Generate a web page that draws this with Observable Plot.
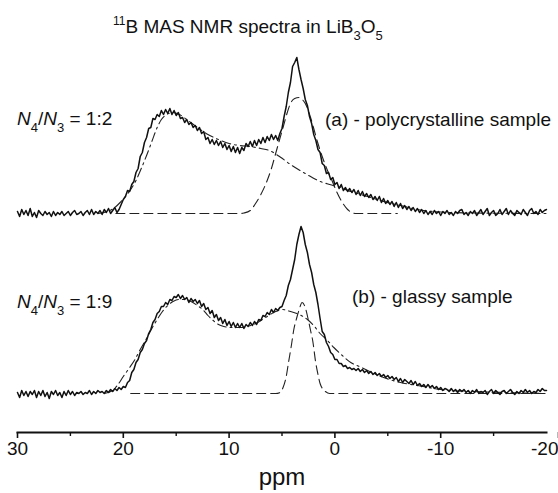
<!DOCTYPE html>
<html><head><meta charset="utf-8">
<script src="https://cdn.jsdelivr.net/npm/d3@7"></script>
<script src="https://cdn.jsdelivr.net/npm/@observablehq/plot@0.6"></script>
<style>
html,body{margin:0;padding:0;background:#fff;}
#wrap{position:relative;width:558px;height:493px;font-family:"Liberation Sans",Arial,sans-serif;color:#111;overflow:hidden;background:#fff;}
#title{position:absolute;left:113px;top:17px;font-size:19px;line-height:19px;white-space:nowrap;z-index:2;}
.ann{position:absolute;font-size:19px;line-height:19px;white-space:nowrap;z-index:2;}
.s{font-size:13px;position:relative;top:7px;vertical-align:baseline;line-height:0;}
.u{font-size:12px;position:relative;top:-8px;vertical-align:baseline;line-height:0;}
#chart{position:absolute;left:0;top:44px;z-index:1;}
</style></head><body>
<div id="wrap">
 <div id="title"><span class="u">11</span>B MAS NMR spectra in LiB<span class="s">3</span>O<span class="s">5</span></div>
 <div class="ann" style="left:17px;top:109px;"><i>N</i><span class="s">4</span>/<i>N</i><span class="s">3</span> = 1:2</div>
 <div class="ann" style="left:325px;top:110px;">(a) - polycrystalline sample</div>
 <div class="ann" style="left:17px;top:292px;"><i>N</i><span class="s">4</span>/<i>N</i><span class="s">3</span> = 1:9</div>
 <div class="ann" style="left:352px;top:287px;">(b) - glassy sample</div>
 <div id="chart"></div>
</div>
<script>
// sampling grid: 30 ppm down to -20 ppm, step 0.2 ppm
const ppmStart = 30, ppmStep = 0.2;

// (a) polycrystalline sample, measured spectrum (a.u.)
const specA = [
 2,-3,4,-1,3, -2,5,-3,1,-4, 3,0,-2,2,-1, 1,-3,2,-2,1, -1,2,-2,0,2,
 -2,1,3,-1,0, 2,-2,1,3,-1, 4,-1,2,0,3, -1,4,1,5,0, 3,6,1,4,9,
 14,17,23,22,29, 32,41,45,57,61, 71,76,85,86,95, 94,99,97,103,99, 104,100,105,99,103,
 98,101,95,96,91, 94,89,91,86,88, 83,86,80,82,74, 76,70,74,69,73, 68,72,66,70,64,
 68,62,67,61,66, 60,66,63,70,67, 72,67,73,68,74, 70,76,71,77,73, 79,74,78,73,80,
 85,97,107,121,131, 147,151,156,144,134, 125,114,108,97,90, 79,73,64,61,50, 48,40,41,34,36,
 29,31,25,29,23, 26,22,25,21,24, 19,23,18,22,17, 20,16,19,14,17, 13,17,11,15,10,
 13,9,12,7,11, 6,10,5,8,4, 7,3,6,2,5, 1,4,0,3,-1, 2,-1,3,0,2,
 -2,2,0,3,-1, 1,-2,2,0,3, 4,-1,1,-2,2, 0,3,-2,1,4, -1,2,5,-2,1,
 3,-2,0,4,-1, 2,5,-1,3,0, -2,3,1,-1,4, 1,-2,3,5,0, 2,-1,4,1,3,
 4
];

// (b) glassy sample, measured spectrum (a.u.)
const specB = [
 1,-4,3,-2,2, -3,2,-1,3,-4, 2,-2,3,-3,1, -5,2,-1,3,-2, 1,-4,2,-2,3,
 -1,2,-2,1,0, 2,-1,1,0,3, -1,2,0,3,1, 2,0,3,1,4, 2,5,3,6,4,
 7,6,11,13,21, 24,31,34,41,44, 50,53,60,64,71, 74,80,82,87,87, 91,89,94,93,97,
 96,99,95,98,94, 96,91,95,92,94, 90,93,87,90,84, 86,80,83,76,79, 73,76,70,74,68,
 72,67,71,66,70, 66,70,65,69,67, 71,68,72,69,74, 73,78,77,81,79, 84,81,85,83,86,
 87,93,98,108,114, 124,134,149,159,167, 161,149,141,129,121, 109,101,89,75,62, 59,51,47,41,39,
 34,34,30,30,27, 28,25,26,24,25, 23,25,22,24,21, 23,20,22,19,21, 18,20,17,19,16,
 18,15,17,14,16, 12,15,11,14,12, 10,13,9,12,8, 10,7,9,6,9, 6,8,5,7,4,
 6,3,5,4,2, 5,2,4,1,4, 2,4,1,3,0, 3,1,4,0,2, 1,3,-1,2,4,
 0,3,1,-1,2, 3,0,2,4,1, -1,2,0,3,1, 4,1,3,0,2, 1,4,2,5,3,
 3
];

// fitted components, (a): N3 (dash-dot) and N4 (dashed)
const n3A_ppm = [22.4,21.5,20.8,20.3,19.8,19.3,18.8,18.3,17.8,17.3,16.8,16.4,15.9,15.3,14.7,14.0,13.0,12.0,11.0,10.0,9.0,8.0,7.0,6.2,5.1,4.2,3.3,2.3,1.6,0.5,-0.5,-1.5,-3.1,-4.6,-6.2,-7.8,-10,-13,-20];
const n3A_val = [0,2,6,11,17,24,33,45,58,72,86,94,99,101,99,94,86,79,74,70,68,67,65,63,56,49,43,37,33,29,26,22,17,12,8,4,1.5,0.5,0];
const n4A_ppm = [20.7,9.0,8.6,8.0,7.5,7.0,6.4,6.0,5.6,5.2,4.9,4.5,4.2,3.8,3.4,3.0,2.8,2.3,2.0,1.6,1.2,0.7,0.2,-0.2,-0.7,-1.2,-1.6,-2.0,-5.9];
const n4A_val = [0,0,0.5,3,10,19,33,45,60,75,86,101,110,115,116,113,110,96,85,70,57,43,31,21,11,4,1,0,0];

// fitted components, (b): N3 (dash-dot) and N4 (dashed)
const n3B_ppm = [21.8,21.0,20.5,20.0,19.4,18.9,18.4,17.8,17.3,16.8,16.3,15.8,15.3,14.8,14.2,13.6,13.0,12.4,12.0,11.5,11.0,10.5,9.9,9.0,8.3,7.3,6.4,5.6,5.0,4.2,3.6,2.6,2.0,1.4,0.7,0.1,-0.7,-1.5,-2.3,-3.1,-4.6,-6.2,-7.8,-10,-13,-16,-20];
const n3B_val = [0,3,9,17,26,34,44,55,65,74,82,88,92,94,94,92,88,83,78,73,69,67,66,66,67,71,77,82,84,82,80,74,68,60,53,46,38,31,27,23,16,11,8,4,2,1,0];
const n4B_ppm = [19.3,5.6,5.2,4.9,4.6,4.4,4.1,3.9,3.6,3.4,3.1,2.8,2.5,2.3,2.1,1.8,1.6,1.4,1.1,0.9,0.5,-20];
const n4B_val = [0,0,1,6,17,30,49,63,76,83,91,86,73,63,53,30,19,10,4,2,0,0];

const offsetA = 180;           // vertical stacking of spectrum (a) above (b)
const majorTicks = [30,20,10,0,-10];
const lastTick = [-20];
const minorTicks = [25,15,5,-5,-15];

const grid = i => Math.round((ppmStart - ppmStep * i) * 10) / 10;
const spectrumA = specA.map((v, i) => ({x: grid(i), y: v + offsetA}));
const spectrumB = specB.map((v, i) => ({x: grid(i), y: v}));
const zip = (xs, ys, off) => xs.map((x, i) => ({x, y: ys[i] + off}));

const dashDot = "9,4,2,4";
const dashed = "9,5";

const chart = Plot.plot({
  width: 558, height: 449,
  marginLeft: 17, marginRight: 12, marginTop: 0, marginBottom: 61,
  x: {domain: [30, -20], label: null},
  y: {domain: [-39, 349], axis: null},
  style: {fontFamily: "'Liberation Sans', Arial, sans-serif", fontSize: "19px", color: "#111", overflow: "visible"},
  marks: [
    Plot.line(zip(n3A_ppm, n3A_val, offsetA), {x: "x", y: "y", stroke: "#222", strokeWidth: 1.1, strokeDasharray: dashDot, curve: "monotone-x"}),
    Plot.line(zip(n4A_ppm, n4A_val, offsetA), {x: "x", y: "y", stroke: "#222", strokeWidth: 1.1, strokeDasharray: dashed, curve: "monotone-x"}),
    Plot.line(zip(n3B_ppm, n3B_val, 0), {x: "x", y: "y", stroke: "#222", strokeWidth: 1.1, strokeDasharray: dashDot, curve: "monotone-x"}),
    Plot.line(zip(n4B_ppm, n4B_val, 0), {x: "x", y: "y", stroke: "#222", strokeWidth: 1.1, strokeDasharray: dashed, curve: "monotone-x"}),
    Plot.line(spectrumA, {x: "x", y: "y", stroke: "#111", strokeWidth: 1.5}),
    Plot.line(spectrumB, {x: "x", y: "y", stroke: "#111", strokeWidth: 1.5}),
    Plot.frame({anchor: "bottom", stroke: "#111", strokeWidth: 2}),
    Plot.axisX({ticks: majorTicks, tickSize: 6, tickPadding: 3, tickFormat: d => String(d), label: null, fontSize: 19, strokeWidth: 1.6}),
    Plot.axisX({ticks: lastTick, tickSize: 6, tickPadding: 3, tickFormat: d => String(d), label: null, fontSize: 19, strokeWidth: 1.6, textAnchor: "end", dx: 12}),
    Plot.axisX({ticks: minorTicks, tickSize: 4, tickFormat: () => "", label: null, strokeWidth: 1.4}),
    Plot.text(["ppm"], {text: d => d, frameAnchor: "bottom", dy: 52, fontSize: 24})
  ]
});
document.getElementById("chart").appendChild(chart);
</script>
</body></html>
